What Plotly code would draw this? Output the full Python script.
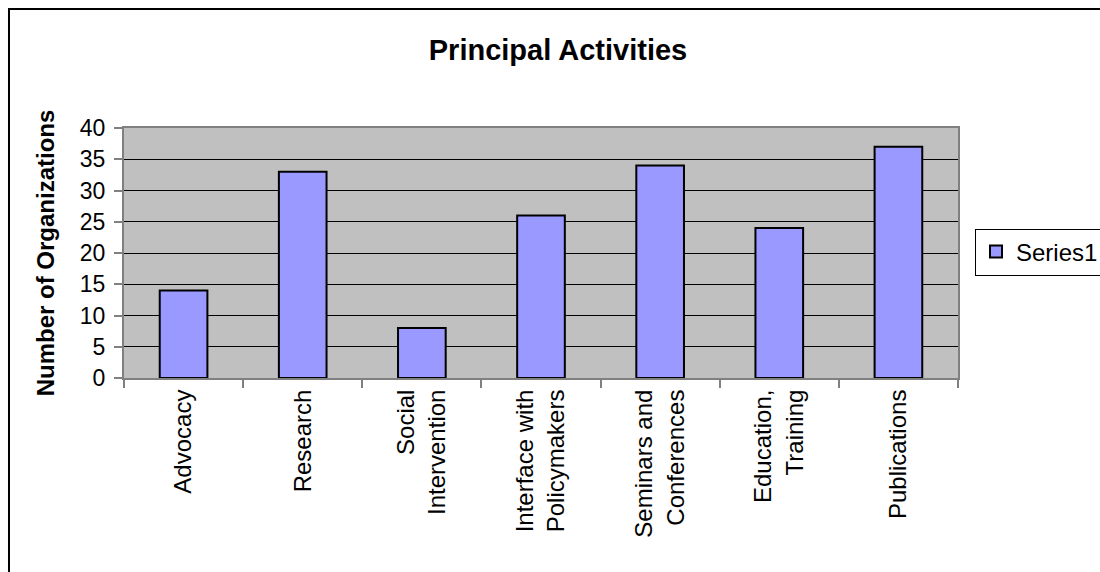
import plotly.graph_objects as go

categories = ["Advocacy", "Research", "Social<br>Intervention", "Interface with<br>Policymakers",
              "Seminars and<br>Conferences", "Education,<br>Training", "Publications"]
values = [14, 33, 8, 26, 34, 24, 37]
series_name = "Series1"
y_ticks = [0, 5, 10, 15, 20, 25, 30, 35, 40]

FONT = "Liberation Sans, Arial, sans-serif"

fig = go.Figure()
fig.add_trace(go.Bar(
    x=categories, y=values, name=series_name,
    marker=dict(color="#9999FF", line=dict(color="black", width=2)),
    showlegend=True,
))

fig.update_layout(
    width=1100, height=572,
    margin=dict(l=124, r=142, t=128, b=194, autoexpand=False),
    paper_bgcolor="white",
    plot_bgcolor="#C0C0C0",
    bargap=0.6,
    font=dict(family=FONT, color="black"),
    title=dict(text="<b>Principal Activities</b>", font=dict(size=29, family=FONT, color="black"),
               x=558/1100, xref="container", xanchor="center",
               y=1-50/572, yref="container", yanchor="middle"),
    showlegend=True,
    legend=dict(x=1.0204, xanchor="left", y=0.504, yanchor="middle",
                bordercolor="black", borderwidth=1, bgcolor="white",
                font=dict(size=24, family=FONT, color="black")),
    shapes=[dict(type="rect", xref="paper", yref="paper",
                 x0=-0.1379, x1=1.8, y0=-1.5, y1=1.476,
                 line=dict(color="black", width=2), fillcolor="rgba(0,0,0,0)", layer="below")],
)

fig.update_xaxes(
    tickangle=-90, tickfont=dict(size=24, family=FONT, color="black"),
    showline=True, linecolor="#808080", linewidth=2, mirror=True,
    ticks="outside", tickson="boundaries", ticklen=8, tickcolor="#808080", tickwidth=2,
    showgrid=False,
)
fig.update_yaxes(
    range=[0, 40], tickvals=y_ticks, ticktext=[str(v) for v in y_ticks],
    tickfont=dict(size=23, family=FONT, color="black"),
    ticklabelstandoff=4,
    title=dict(text="<b>Number of Organizations</b>", font=dict(size=24, family=FONT, color="black"), standoff=18),
    showline=True, linecolor="#808080", linewidth=2, mirror=True,
    ticks="outside", ticklen=8, tickcolor="#808080", tickwidth=2,
    showgrid=True, gridcolor="black", gridwidth=1, zeroline=False,
)

fig.write_html("out.html")
